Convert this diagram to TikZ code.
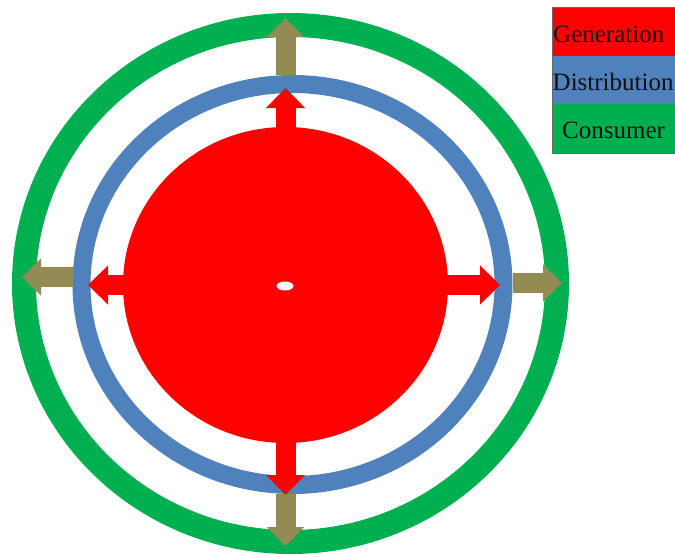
\documentclass[tikz,border=0pt]{standalone}
\usepackage{fontspec}
\setmainfont{Liberation Serif}
\usepackage{xcolor}
\usepackage{tikz}
\usetikzlibrary{positioning,arrows.meta,calc,shapes.geometric}
\definecolor{genred}{HTML}{FF0000}
\definecolor{distblue}{HTML}{4F81BD}
\definecolor{consgreen}{HTML}{00B050}
\definecolor{flowtan}{HTML}{948A54}
\definecolor{ink}{HTML}{101010}

\tikzset{
  ring/.style={ellipse, inner sep=0pt, fill=none},
  genflow/.style={draw=genred, line width=20pt, -{Triangle[width=38pt, length=20pt]}},
  consflow/.style={draw=flowtan, line width=20pt, -{Triangle[width=36pt, length=19pt]}},
  legbox/.style={rectangle, minimum width=130pt, minimum height=48.7pt, inner sep=0pt, outer sep=0pt},
  keytext/.style={inner sep=0pt, text=ink, font=\fontsize{25}{30}\selectfont}
}

\begin{document}
\begin{tikzpicture}[x=1pt, y=-1pt]
      \useasboundingbox[fill=white] (0,0) rectangle (675,557);
      % rings and disk
      \node[ring, draw=consgreen, line width=24pt, minimum width=533pt, minimum height=517pt] (cons) at (290.5,283.5) {};
      \node[ring, draw=distblue, line width=18pt, minimum width=422pt, minimum height=401pt] (dist) at (292.5,284.5) {};
      \node[ellipse, fill=genred, inner sep=0pt, minimum width=325pt, minimum height=316pt] (gen) at (285.5,285) {};
      % arrow tips
      \coordinate (genN) at (285.5,88);
      \coordinate (genW) at (88,285);
      \coordinate (genE) at (500,285);
      \coordinate (genS) at (285.5,495);
      \coordinate (consN) at (285.5,18);
      \coordinate (consW) at (22,277);
      \coordinate (consE) at (562,283);
      \coordinate (consS) at (285.5,546);
      % outer flows
      \draw[consflow] (gen.north |- dist.north) -- (consN);
      \draw[consflow] (dist.west |- consW) -- (consW);
      \draw[consflow] (dist.east |- consE) -- (consE);
      \draw[consflow] (gen.south |- dist.south) -- (consS);
      % inner flows
      \draw[genflow] ([yshift=-4pt]gen.north) -- (genN);
      \draw[genflow] ([xshift=4pt]gen.west) -- (genW);
      \draw[genflow] ([xshift=-4pt]gen.east) -- (genE);
      \draw[genflow] ([yshift=4pt]gen.south) -- (genS);
      \node[ellipse, fill=white, inner sep=0pt, minimum width=17pt, minimum height=9pt] (hub) at (285,286) {};
      % legend
      \node[legbox, fill=genred, anchor=north west] (keyGen) at (552,7) {};
      \node[legbox, fill=distblue, below=0pt of keyGen] (keyDist) {};
      \node[legbox, fill=consgreen, below=0pt of keyDist] (keyCons) {};
      \draw[black!60, line width=0.8pt] (keyGen.north west) rectangle (keyCons.south east);
      \node[keytext, anchor=base west] (txtGen) at (553,42) {Generation};
      \node[keytext, anchor=base west] (txtDist) at (552.5,90) {Distribution};
      \node[keytext, anchor=base west] (txtCons) at (562,138) {Consumer};
    \end{tikzpicture}
\end{document}
